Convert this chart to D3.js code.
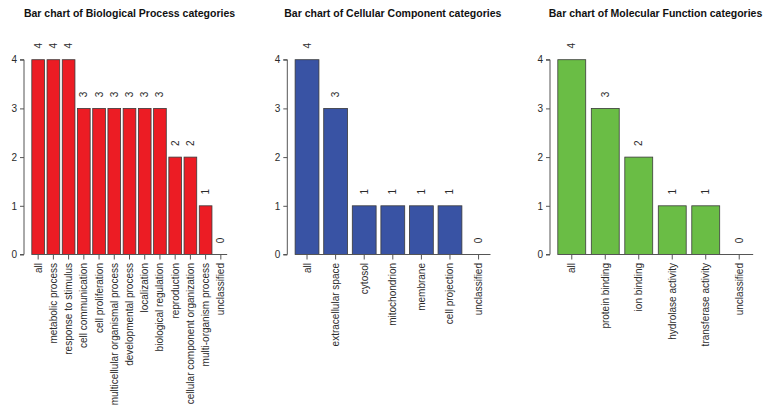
<!DOCTYPE html>
<html>
<head>
<meta charset="utf-8">
<script src="https://cdn.jsdelivr.net/npm/d3@7"></script>
<style>
  html, body { margin: 0; padding: 0; background: #fff; }
  svg { display: block; font-family: "Liberation Sans", Arial, Helvetica, sans-serif; }
</style>
</head>
<body>
<svg id="chart" width="770" height="415"></svg>
<script>
// GO slim category counts for three ontologies
const bpCategories = ["all", "metabolic process", "response to stimulus", "cell communication",
  "cell proliferation", "multicellular organismal process", "developmental process",
  "localization", "biological regulation", "reproduction", "cellular component organization",
  "multi-organism process", "unclassified"];
const bpValues = [4, 4, 4, 3, 3, 3, 3, 3, 3, 2, 2, 1, 0];

const ccCategories = ["all", "extracellular space", "cytosol", "mitochondrion", "membrane",
  "cell projection", "unclassified"];
const ccValues = [4, 3, 1, 1, 1, 1, 0];

const mfCategories = ["all", "protein binding", "ion binding", "hydrolase activity",
  "transferase activity", "unclassified"];
const mfValues = [4, 3, 2, 1, 1, 0];

const yTicks = [0, 1, 2, 3, 4];

const panels = [
  { title: "Bar chart of Biological Process categories", cats: bpCategories, vals: bpValues, fill: "#ec1c24", left: 24 },
  { title: "Bar chart of Cellular Component categories", cats: ccCategories, vals: ccValues, fill: "#3953a4", left: 287.3 },
  { title: "Bar chart of Molecular Function categories", cats: mfCategories, vals: mfValues, fill: "#6abd45", left: 550 }
];

const plotW = 211;
const yScale = d3.scaleLinear().domain([0, 4]).range([254.5, 59.7]);
const svg = d3.select("#chart");
const textColor = "#2b2b2b";
const axisColor = "#555";

panels.forEach(p => {
  const n = p.cats.length;
  // barplot-style layout: bar width 1, spacing 0.2, 4% padding on each side
  const lo = 0.2, hi = 1.2 * n, pad = 0.04 * (hi - lo);
  const x = d3.scaleLinear().domain([lo - pad, hi + pad]).range([p.left, p.left + plotW]);
  const bandW = x(1) - x(0);
  const data = p.cats.map((c, i) => ({ cat: c, val: p.vals[i], l: 0.2 + 1.2 * i, m: 0.7 + 1.2 * i }));

  const g = svg.append("g");

  // title
  g.append("text")
    .attr("x", p.left + plotW / 2)
    .attr("y", 17)
    .attr("text-anchor", "middle")
    .attr("font-weight", "bold")
    .attr("font-size", "10.5px")
    .attr("fill", "#111")
    .text(p.title);

  // bars
  g.selectAll("rect.bar").data(data.filter(d => d.val > 0)).join("rect")
    .attr("class", "bar")
    .attr("x", d => x(d.l))
    .attr("width", bandW)
    .attr("y", d => yScale(d.val))
    .attr("height", d => yScale(0) - yScale(d.val))
    .attr("fill", p.fill)
    .attr("stroke", "#3a3a3a")
    .attr("stroke-width", 0.8);

  // baseline across the bar range
  g.append("line")
    .attr("x1", x(data[0].l)).attr("x2", x(data[n - 1].l + 1))
    .attr("y1", yScale(0)).attr("y2", yScale(0))
    .attr("stroke", axisColor).attr("stroke-width", 1);

  // category ticks and rotated labels
  g.selectAll("line.xt").data(data).join("line")
    .attr("class", "xt")
    .attr("x1", d => x(d.m)).attr("x2", d => x(d.m))
    .attr("y1", yScale(0)).attr("y2", yScale(0) + 5)
    .attr("stroke", axisColor).attr("stroke-width", 1);

  g.selectAll("text.xl").data(data).join("text")
    .attr("class", "xl")
    .attr("transform", d => `translate(${x(d.m)},263) rotate(-90)`)
    .attr("text-anchor", "end")
    .attr("dy", "0.35em")
    .attr("font-size", "10px")
    .attr("fill", textColor)
    .text(d => d.cat);

  // value labels above bars
  g.selectAll("text.vl").data(data).join("text")
    .attr("class", "vl")
    .attr("transform", d => `translate(${x(d.m)},${yScale(d.val) - 14}) rotate(-90)`)
    .attr("text-anchor", "middle")
    .attr("dy", "0.35em")
    .attr("font-size", "10px")
    .attr("fill", textColor)
    .text(d => d.val);

  // y axis
  const yAxis = d3.axisLeft(yScale).tickValues(yTicks).tickFormat(d3.format("d")).tickSize(4).tickPadding(3);
  const ya = g.append("g").attr("transform", `translate(${p.left},0)`).call(yAxis);
  ya.select(".domain").attr("stroke", axisColor).attr("d", `M-4,${yScale(4)}H0V${yScale(0)}H-4`);
  ya.selectAll(".tick line").attr("stroke", axisColor);
  ya.selectAll(".tick text").attr("fill", textColor).attr("font-size", "10px")
    .attr("font-family", "'Liberation Sans', Arial, sans-serif");
});
</script>
</body>
</html>
